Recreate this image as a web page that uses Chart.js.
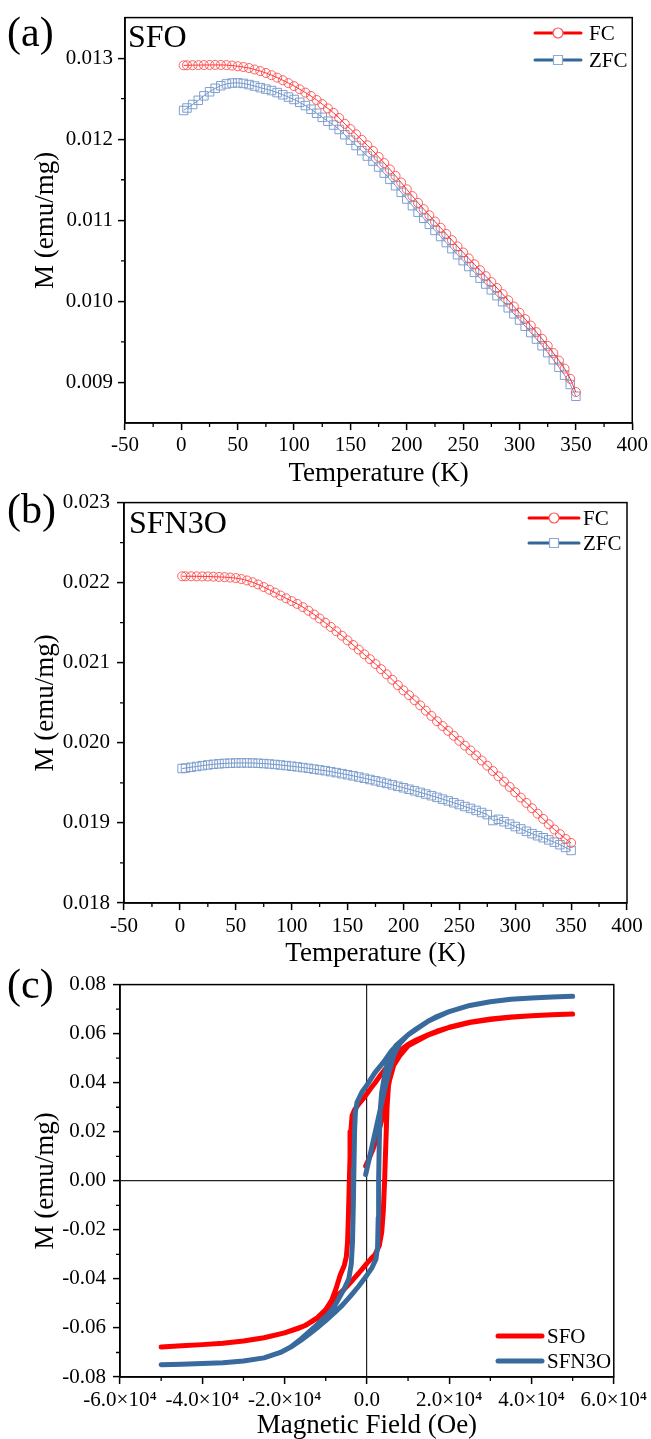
<!DOCTYPE html>
<html>
<head>
<meta charset="utf-8">
<script src="https://cdn.jsdelivr.net/npm/chart.js@4.4.0/dist/chart.umd.min.js"></script>
<style>
  html, body { margin: 0; padding: 0; background: #fff; }
  #wrap { position: relative; width: 651px; height: 1439px; overflow: hidden; }
  canvas { position: absolute; left: 0; }
</style>
</head>
<body>
<div id="wrap">
  <canvas id="chartA" width="651" height="487" style="top:0px"></canvas>
  <canvas id="chartB" width="651" height="484" style="top:483px"></canvas>
  <canvas id="chartC" width="651" height="474" style="top:965px"></canvas>
</div>
<script>
// temperature sweeps (K), shared by panels (a) and (b)
const tempK = [2, 5, 10, 15, 20, 25, 30, 35, 40, 45, 50, 55, 60, 65, 70, 75, 80, 85, 90, 95,
  100, 105, 110, 115, 120, 125, 130, 135, 140, 145, 150, 155, 160, 165, 170, 175, 180, 185, 190, 195,
  200, 205, 210, 215, 220, 225, 230, 235, 240, 245, 250, 255, 260, 265, 270, 275, 280, 285, 290, 295,
  300, 305, 310, 315, 320, 325, 330, 335, 340, 345, 350];

// (a) SFO
const fcA = [0.012911, 0.012912, 0.012913, 0.012914, 0.012915, 0.012916, 0.012916, 0.012916, 0.012914, 0.012908,
  0.012900, 0.012890, 0.012878, 0.012860, 0.012840, 0.012817, 0.012790, 0.012760, 0.012727, 0.012692,
  0.012655, 0.012616, 0.012575, 0.012533, 0.012484, 0.012433, 0.012380, 0.012325, 0.012262, 0.012190,
  0.012125, 0.012060, 0.011993, 0.011925, 0.011856, 0.011782, 0.011706, 0.011628, 0.011548, 0.011466,
  0.011382, 0.011298, 0.011215, 0.011138, 0.011062, 0.010985, 0.010908, 0.010832, 0.010755, 0.010678,
  0.010603, 0.010530, 0.010457, 0.010384, 0.010311, 0.010238, 0.010165, 0.010090, 0.010014, 0.009937,
  0.009860, 0.009781, 0.009702, 0.009621, 0.009538, 0.009452, 0.009363, 0.009270, 0.009170, 0.009045,
  0.008882];
const zfcA = [0.012354, 0.012385, 0.012428, 0.012480, 0.012535, 0.012585, 0.012628, 0.012660, 0.012682, 0.012693,
  0.012695, 0.012688, 0.012674, 0.012656, 0.012636, 0.012618, 0.012600, 0.012575, 0.012548, 0.012520,
  0.012490, 0.012455, 0.012415, 0.012370, 0.012320, 0.012270, 0.012222, 0.012175, 0.012120, 0.012055,
  0.011988, 0.011922, 0.011858, 0.011792, 0.011730, 0.011657, 0.011582, 0.011505, 0.011426, 0.011345,
  0.011262, 0.011180, 0.011100, 0.011025, 0.010950, 0.010875, 0.010800, 0.010725, 0.010650, 0.010575,
  0.010502, 0.010430, 0.010358, 0.010286, 0.010214, 0.010142, 0.010070, 0.009996, 0.009921, 0.009846,
  0.009770, 0.009693, 0.009615, 0.009535, 0.009453, 0.009368, 0.009280, 0.009188, 0.009090, 0.008975,
  0.008830];

// (b) SFN3O
const fcB = [0.022080, 0.022080, 0.022080, 0.022079, 0.022078, 0.022077, 0.022075, 0.022072, 0.022069, 0.022064,
  0.022057, 0.022045, 0.022028, 0.022005, 0.021978, 0.021946, 0.021912, 0.021876, 0.021840, 0.021805,
  0.021770, 0.021735, 0.021695, 0.021650, 0.021603, 0.021553, 0.021500, 0.021447, 0.021393, 0.021338,
  0.021280, 0.021222, 0.021164, 0.021105, 0.021045, 0.020984, 0.020920, 0.020855, 0.020788, 0.020720,
  0.020655, 0.020595, 0.020532, 0.020468, 0.020402, 0.020336, 0.020270, 0.020210, 0.020150, 0.020088,
  0.020025, 0.019965, 0.019905, 0.019843, 0.019780, 0.019715, 0.019648, 0.019582, 0.019515, 0.019449,
  0.019383, 0.019316, 0.019250, 0.019183, 0.019116, 0.019050, 0.018983, 0.018918, 0.018860, 0.018800,
  0.018750];
const zfcB = [0.019679, 0.019685, 0.019695, 0.019705, 0.019715, 0.019724, 0.019732, 0.019738, 0.019743, 0.019746,
  0.019748, 0.019749, 0.019749, 0.019748, 0.019745, 0.019741, 0.019736, 0.019730, 0.019723, 0.019716,
  0.019708, 0.019700, 0.019691, 0.019682, 0.019672, 0.019662, 0.019652, 0.019640, 0.019628, 0.019615,
  0.019602, 0.019588, 0.019573, 0.019558, 0.019542, 0.019526, 0.019510, 0.019493, 0.019475, 0.019457,
  0.019439, 0.019420, 0.019401, 0.019381, 0.019361, 0.019340, 0.019319, 0.019297, 0.019275, 0.019252,
  0.019229, 0.019205, 0.019181, 0.019156, 0.019130, 0.019104, 0.019030, 0.019045, 0.019015, 0.018985,
  0.018955, 0.018925, 0.018895, 0.018866, 0.018840, 0.018815, 0.018788, 0.018760, 0.018728, 0.018694,
  0.018656];

// (c) M-H loops: virgin curve, then +5e4 -> -5e4, then back to +5e4
const fieldSFO = [-300, 500, 1500, 2500, 3500, 4500, 5500, 6500, 8000, 10000, 15000, 20000, 25000, 30000, 35000, 40000, 45000, 50000,
  45000, 40000, 35000, 30000, 25000, 20000, 17000, 15000, 12000, 10000, 8000, 7000, 6000, 5000, 4000, 3000, 2000, 1000, 0,
  -1000, -2000, -3000, -3600, -3900, -4100, -4300, -4500, -4700, -5000, -5500, -6500, -7500, -8500, -10000, -12000, -15000,
  -17000, -20000, -25000, -30000, -35000, -40000, -45000, -50000,
  -45000, -40000, -35000, -30000, -25000, -20000, -15000, -12000, -10000, -8500, -7000, -6000, -5000, -4000, -3000, -2000,
  -1000, 0, 1000, 2000, 3000, 3600, 4000, 4300, 4600, 4900, 5300, 6000, 7000, 8000, 10000, 15000, 20000, 25000, 30000,
  35000, 40000, 45000, 50000];
const momentSFO = [0.0060, 0.0090, 0.0130, 0.0180, 0.0240, 0.0320, 0.0410, 0.0470, 0.0510, 0.0550, 0.0595, 0.0625, 0.0645, 0.0658, 0.0667, 0.0673, 0.0677, 0.0680,
  0.0677, 0.0673, 0.0668, 0.0660, 0.0647, 0.0626, 0.0610, 0.0596, 0.0574, 0.0556, 0.0530, 0.0512, 0.0490, 0.0468, 0.0446, 0.0424, 0.0400, 0.0378, 0.0355,
  0.0333, 0.0312, 0.0290, 0.0265, 0.0200, 0.0100, -0.0020, -0.0150, -0.0250, -0.0310, -0.0345, -0.0385, -0.0440, -0.0485, -0.0525, -0.0558, -0.0590,
  -0.0604, -0.0620, -0.0640, -0.0653, -0.0662, -0.0668, -0.0673, -0.0678,
  -0.0673, -0.0668, -0.0662, -0.0653, -0.0640, -0.0620, -0.0590, -0.0560, -0.0530, -0.0495, -0.0465, -0.0450, -0.0433, -0.0415, -0.0396, -0.0377,
  -0.0357, -0.0337, -0.0318, -0.0300, -0.0265, -0.0210, -0.0120, 0.0000, 0.0150, 0.0300, 0.0400, 0.0465, 0.0505, 0.0528, 0.0555, 0.0596, 0.0626, 0.0647, 0.0660,
  0.0668, 0.0673, 0.0677, 0.0680];

const fieldSFN3O = [-300, 1000, 2000, 3000, 4000, 4500, 5500, 6500, 8000, 10000, 15000, 20000, 25000, 30000, 35000, 40000, 45000, 50000,
  45000, 40000, 35000, 30000, 25000, 20000, 17000, 15000, 12000, 10000, 8000, 6000, 4000, 2000, 0, -1200, -2400, -2800, -3000,
  -3150, -3300, -3500, -3800, -4400, -5500, -6500, -8000, -9500, -12000, -14000, -16000, -18500, -21000, -25000, -30000, -35000,
  -40000, -45000, -50000,
  -45000, -40000, -35000, -30000, -25000, -21000, -18500, -16000, -14000, -12000, -10000, -8000, -6000, -4000, -2000, 0, 1200,
  2200, 2600, 2750, 2850, 3000, 3200, 3600, 4500, 5700, 7000, 8000, 10000, 12000, 15000, 17000, 20000, 25000, 30000, 35000,
  40000, 45000, 50000];
const momentSFN3O = [0.0025, 0.0122, 0.0197, 0.0272, 0.0347, 0.0386, 0.0450, 0.0510, 0.0560, 0.0595, 0.0652, 0.0690, 0.0715, 0.0730, 0.0740, 0.0745, 0.0749, 0.0752,
  0.0749, 0.0745, 0.0740, 0.0730, 0.0715, 0.0690, 0.0670, 0.0652, 0.0620, 0.0595, 0.0565, 0.0530, 0.0483, 0.0442, 0.0390, 0.0362, 0.0320, 0.0280, 0.0200,
  0.0050, -0.0100, -0.0250, -0.0340, -0.0400, -0.0440, -0.0470, -0.0515, -0.0545, -0.0585, -0.0615, -0.0645, -0.0678, -0.0700, -0.0722, -0.0735, -0.0742,
  -0.0745, -0.0748, -0.0750,
  -0.0748, -0.0745, -0.0742, -0.0735, -0.0722, -0.0700, -0.0678, -0.0650, -0.0625, -0.0598, -0.0570, -0.0540, -0.0508, -0.0470, -0.0430, -0.0385, -0.0355,
  -0.0320, -0.0270, -0.0150, 0.0000, 0.0150, 0.0280, 0.0360, 0.0450, 0.0515, 0.0550, 0.0565, 0.0595, 0.0620, 0.0652, 0.0670, 0.0690, 0.0715, 0.0730, 0.0740,
  0.0745, 0.0749, 0.0752];

// axis ticks and their labels
const xTicksTemp = [-50, 0, 50, 100, 150, 200, 250, 300, 350, 400];
const xLabelsTemp = ['-50', '0', '50', '100', '150', '200', '250', '300', '350', '400'];
const yTicksA = [0.009, 0.010, 0.011, 0.012, 0.013];
const yLabelsA = ['0.009', '0.010', '0.011', '0.012', '0.013'];
const yTicksB = [0.018, 0.019, 0.020, 0.021, 0.022, 0.023];
const yLabelsB = ['0.018', '0.019', '0.020', '0.021', '0.022', '0.023'];
const xTicksField = [-60000, -40000, -20000, 0, 20000, 40000, 60000];
const xLabelsField = ['-6.0×10⁴', '-4.0×10⁴', '-2.0×10⁴', '0.0', '2.0×10⁴', '4.0×10⁴', '6.0×10⁴'];
const yTicksC = [-0.08, -0.06, -0.04, -0.02, 0, 0.02, 0.04, 0.06, 0.08];
const yLabelsC = ['-0.08', '-0.06', '-0.04', '-0.02', '0.00', '0.02', '0.04', '0.06', '0.08'];

const serif = 'Liberation Serif';
const tickFont = { family: serif, size: 21 };
const titleFont = { family: serif, size: 27, lineHeight: 1 };

const pairs = (xs, ys) => xs.map((x, i) => ({ x: x, y: ys[i] }));
const midpoints = arr => arr.slice(1).map((v, i) => (v + arr[i]) / 2);
const fixedTicks = values => scale => { scale.ticks = values.map(v => ({ value: v })); };

// closed frame + short minor ticks, positioned through the chart's scales
const frameAndMinor = {
  id: 'frameAndMinor',
  afterDraw(chart, args, opts) {
    const { ctx, chartArea: a } = chart;
    const x = chart.scales.x, y = chart.scales.y;
    ctx.save();
    ctx.strokeStyle = '#000';
    ctx.lineWidth = 1.5;
    ctx.strokeRect(a.left, a.top, a.right - a.left, a.bottom - a.top);
    ctx.lineWidth = 1.3;
    ctx.beginPath();
    opts.xMinor.forEach(v => {
      const px = x.getPixelForValue(v);
      ctx.moveTo(px, a.bottom);
      ctx.lineTo(px, a.bottom + 4);
    });
    opts.yMinor.forEach(v => {
      const py = y.getPixelForValue(v);
      ctx.moveTo(a.left, py);
      ctx.lineTo(a.left - 4, py);
    });
    ctx.stroke();
    ctx.restore();
  }
};

// panel letter, sample name and the line+marker legend
const panelText = {
  id: 'panelText',
  afterDraw(chart, args, opts) {
    const ctx = chart.ctx;
    ctx.save();
    ctx.fillStyle = '#000';
    ctx.textBaseline = 'alphabetic';
    ctx.textAlign = 'left';
    ctx.font = '42px "' + serif + '"';
    ctx.fillText(opts.tag, opts.tagPos[0], opts.tagPos[1]);
    if (opts.sample) {
      ctx.font = '32px "' + serif + '"';
      ctx.fillText(opts.sample, opts.samplePos[0], opts.samplePos[1]);
    }
    ctx.font = '21px "' + serif + '"';
    ctx.textBaseline = 'middle';
    opts.legend.forEach(it => {
      ctx.strokeStyle = it.lineColor;
      ctx.lineWidth = it.lineWidth;
      ctx.lineCap = 'round';
      ctx.beginPath();
      ctx.moveTo(it.x0, it.y);
      ctx.lineTo(it.x1, it.y);
      ctx.stroke();
      if (it.marker) {
        const mx = (it.x0 + it.x1) / 2;
        ctx.fillStyle = '#fff';
        ctx.strokeStyle = it.markerColor;
        ctx.lineWidth = 1.2;
        ctx.beginPath();
        if (it.marker === 'circle') ctx.arc(mx, it.y, 5, 0, Math.PI * 2);
        else ctx.rect(mx - 4.5, it.y - 4.5, 9, 9);
        ctx.fill();
        ctx.stroke();
      }
      ctx.fillStyle = '#000';
      ctx.fillText(it.label, it.textX, it.y + 1);
    });
    ctx.restore();
  }
};

function linearAxis(o) {
  return {
    type: 'linear',
    min: o.min,
    max: o.max,
    afterBuildTicks: fixedTicks(o.ticks),
    afterFit: o.fit,
    ticks: {
      callback: (v, i) => o.labels[i],
      font: tickFont, color: '#000', padding: o.pad,
      maxRotation: 0, minRotation: 0, autoSkip: false
    },
    grid: {
      drawOnChartArea: !!o.zeroLine,
      color: c => (o.zeroLine && c.tick && c.tick.value === 0) ? '#222' : 'rgba(0,0,0,0)',
      lineWidth: 1.2,
      tickLength: 7, tickWidth: 1.5, tickColor: '#000'
    },
    border: { display: true, color: '#000', width: 1.5 },
    title: { display: true, text: o.title, font: titleFont, color: '#000', padding: o.titlePad }
  };
}

function tempChart(id, fc, zfc, yTicks, yLabels, yMin, yMax, layout, text) {
  return new Chart(document.getElementById(id), {
    type: 'scatter',
    data: {
      datasets: [
        {
          label: 'FC', data: pairs(tempK, fc), showLine: true,
          borderColor: 'rgba(255,0,0,0.8)', borderWidth: 1,
          pointStyle: 'circle', pointRadius: 4.5, pointBorderWidth: 1,
          pointBorderColor: 'rgba(255,70,70,0.85)', pointBackgroundColor: 'rgba(0,0,0,0)'
        },
        {
          label: 'ZFC', data: pairs(tempK, zfc), showLine: true,
          borderColor: 'rgba(60,100,160,0.7)', borderWidth: 1,
          pointStyle: 'rect', pointRadius: 6, pointBorderWidth: 1,
          pointBorderColor: 'rgba(120,155,205,0.95)', pointBackgroundColor: 'rgba(0,0,0,0)'
        }
      ]
    },
    options: {
      responsive: false, animation: false, devicePixelRatio: 1,
      layout: { padding: layout.padding },
      scales: {
        x: linearAxis({ min: -50, max: 400, ticks: xTicksTemp, labels: xLabelsTemp, pad: layout.xPad,
          fit: s => { s.height = layout.xHeight; }, title: 'Temperature (K)', titlePad: { top: 0, bottom: 0 } }),
        y: linearAxis({ min: yMin, max: yMax, ticks: yTicks, labels: yLabels, pad: layout.yPad,
          fit: s => { s.width = layout.yWidth; }, title: 'M (emu/mg)', titlePad: { top: 32, bottom: 0 } })
      },
      plugins: {
        legend: { display: false }, tooltip: { enabled: false },
        frameAndMinor: { xMinor: midpoints(xTicksTemp), yMinor: midpoints(yTicks) },
        panelText: text
      }
    },
    plugins: [frameAndMinor, panelText]
  });
}

tempChart('chartA', fcA, zfcA, yTicksA, yLabelsA, 0.0085, 0.0135,
  { padding: { top: 14, right: 16, left: 0, bottom: 0 }, xHeight: 64, yWidth: 125, xPad: 3, yPad: 5 },
  {
    tag: '(a)', tagPos: [7, 46], sample: 'SFO', samplePos: [128, 47],
    legend: [
      { label: 'FC', y: 33, x0: 535, x1: 581, textX: 589, lineColor: '#ff0000', lineWidth: 3, marker: 'circle', markerColor: '#ff5050' },
      { label: 'ZFC', y: 60, x0: 535, x1: 581, textX: 589, lineColor: '#336699', lineWidth: 3, marker: 'rect', markerColor: '#8cabd3' }
    ]
  });

tempChart('chartB', fcB, zfcB, yTicksB, yLabelsB, 0.018, 0.023,
  { padding: { top: 16, right: 24, left: 0, bottom: 0 }, xHeight: 64, yWidth: 124, xPad: 4, yPad: 7 },
  {
    tag: '(b)', tagPos: [7, 40], sample: 'SFN3O', samplePos: [129, 50],
    legend: [
      { label: 'FC', y: 35, x0: 529, x1: 579, textX: 583, lineColor: '#ff0000', lineWidth: 3, marker: 'circle', markerColor: '#ff5050' },
      { label: 'ZFC', y: 60, x0: 529, x1: 579, textX: 583, lineColor: '#336699', lineWidth: 3, marker: 'rect', markerColor: '#8cabd3' }
    ]
  });

new Chart(document.getElementById('chartC'), {
  type: 'scatter',
  data: {
    datasets: [
      {
        label: 'SFO', data: pairs(fieldSFO, momentSFO), showLine: true, order: 2,
        borderColor: '#ff0000', borderWidth: 5, pointRadius: 0,
        borderJoinStyle: 'round', borderCapStyle: 'round'
      },
      {
        label: 'SFN3O', data: pairs(fieldSFN3O, momentSFN3O), showLine: true, order: 1,
        borderColor: '#386a9d', borderWidth: 5, pointRadius: 0,
        borderJoinStyle: 'round', borderCapStyle: 'round'
      }
    ]
  },
  options: {
    responsive: false, animation: false, devicePixelRatio: 1,
    layout: { padding: { top: 14, right: 34, left: 0, bottom: 0 } },
    scales: {
      x: linearAxis({ min: -60000, max: 60000, ticks: xTicksField, labels: xLabelsField, pad: 4, zeroLine: true,
        fit: s => { s.height = 62; }, title: 'Magnetic Field (Oe)', titlePad: { top: 0, bottom: 0 } }),
      y: linearAxis({ min: -0.08, max: 0.08, ticks: yTicksC, labels: yLabelsC, pad: 7, zeroLine: true,
        fit: s => { s.width = 120; }, title: 'M (emu/mg)', titlePad: { top: 32, bottom: 0 } })
    },
    plugins: {
      legend: { display: false }, tooltip: { enabled: false },
      frameAndMinor: { xMinor: midpoints(xTicksField), yMinor: midpoints(yTicksC) },
      panelText: {
        tag: '(c)', tagPos: [7, 33],
        legend: [
          { label: 'SFO', y: 371, x0: 498, x1: 542, textX: 547, lineColor: '#ff0000', lineWidth: 5 },
          { label: 'SFN3O', y: 396, x0: 498, x1: 542, textX: 547, lineColor: '#386a9d', lineWidth: 5 }
        ]
      }
    }
  },
  plugins: [frameAndMinor, panelText]
});
</script>
</body>
</html>
